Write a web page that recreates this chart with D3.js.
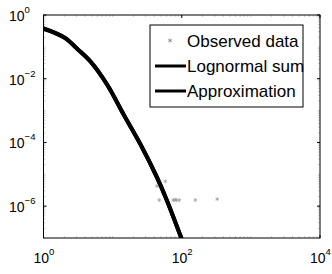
<!DOCTYPE html>
<html>
<head>
<meta charset="utf-8">
<script src="https://cdn.jsdelivr.net/npm/d3@7"></script>
<style>
  body { margin: 0; background: #fff; }
  svg { display: block; font-family: "Liberation Sans", Arial, sans-serif; }
</style>
</head>
<body>
<svg class="chart"></svg>
<script>
// Curve samples (x, CCDF)
const curveX = [1, 1.45, 2.08, 3.1, 4.77, 8.32, 14.4, 25.2, 43.8, 61.1, 95.1, 110];
const lognormalSum = [0.38, 0.28, 0.187, 0.085, 0.0347, 0.0065, 7.5e-4, 8.7e-5, 7.9e-6, 1.47e-6, 1.2e-7, 5.2e-8];
const approximation = [0.37, 0.275, 0.185, 0.086, 0.035, 0.0066, 7.6e-4, 8.9e-5, 8.1e-6, 1.5e-6, 1.25e-7, 5.5e-8];

// Observed data markers
const obsX = [1, 1.3, 1.7, 2.2, 2.8, 3.5, 4.5, 5.5, 7, 9, 11, 14, 18, 22, 27, 32, 37, 41, 43.8, 47.3, 50, 54, 57.8, 75.4, 80, 83.3, 92, 157, 326];
const obsY = [0.42, 0.31, 0.24, 0.175, 0.11, 0.068, 0.041, 0.024, 0.0118, 0.0051, 0.0023, 8.8e-4, 3.4e-4, 1.55e-4, 6.9e-5, 3.3e-5, 1.75e-5, 1.1e-5, 4.3e-6, 1.55e-6, 4.2e-6, 2.9e-6, 6.0e-6, 1.55e-6, 1.6e-6, 1.55e-6, 1.55e-6, 1.55e-6, 1.66e-6];

// Axis ticks
const xTicks = [1, 100, 10000];
const xTickExp = ['0', '2', '4'];
const yTicks = [1, 1e-2, 1e-4, 1e-6];
const yTickExp = ['0', '-2', '-4', '-6'];

const legendLabels = ['Observed data', 'Lognormal sum', 'Approximation'];

const svgWidth = 332;
const svgHeight = 274;
const margin = { top: 15, right: 12, bottom: 36, left: 43.5 };
const chartWidth = svgWidth - margin.left - margin.right;
const chartHeight = svgHeight - margin.top - margin.bottom;

const svg = d3.select('.chart')
  .attr('width', svgWidth)
  .attr('height', svgHeight);

const chart = svg.append('g')
  .attr('transform', 'translate(' + margin.left + ',' + margin.top + ')');

const xScale = d3.scaleLog().domain([1, 1e4]).range([0, chartWidth]);
const yScale = d3.scaleLog().domain([1e-7, 1]).range([chartHeight, 0]);

svg.append('defs').append('clipPath').attr('id', 'plotclip')
  .append('rect').attr('width', chartWidth).attr('height', chartHeight);

// minor ticks (1..9 x 10^n), drawn inward on all four sides
const minorX = [];
for (let e = 0; e < 4; e++) for (let k = 1; k < 10; k++) minorX.push(k * Math.pow(10, e));
const minorY = [];
for (let e = -7; e < 0; e++) for (let k = 1; k < 10; k++) minorY.push(k * Math.pow(10, e));

const ticks = chart.append('g').attr('stroke', '#999').attr('stroke-width', 0.5);
minorX.forEach(v => {
  const x = xScale(v);
  ticks.append('line').attr('x1', x).attr('x2', x).attr('y1', chartHeight).attr('y2', chartHeight - 2);
  ticks.append('line').attr('x1', x).attr('x2', x).attr('y1', 0).attr('y2', 2);
});
minorY.forEach(v => {
  const y = yScale(v);
  ticks.append('line').attr('x1', 0).attr('x2', 2).attr('y1', y).attr('y2', y);
  ticks.append('line').attr('x1', chartWidth).attr('x2', chartWidth - 2).attr('y1', y).attr('y2', y);
});

const major = chart.append('g').attr('stroke', '#000').attr('stroke-width', 1);
xTicks.forEach(v => {
  const x = xScale(v);
  major.append('line').attr('x1', x).attr('x2', x).attr('y1', chartHeight).attr('y2', chartHeight - 3);
  major.append('line').attr('x1', x).attr('x2', x).attr('y1', 0).attr('y2', 3);
});
yTicks.forEach(v => {
  const y = yScale(v);
  major.append('line').attr('x1', 0).attr('x2', 3).attr('y1', y).attr('y2', y);
  major.append('line').attr('x1', chartWidth).attr('x2', chartWidth - 3).attr('y1', y).attr('y2', y);
});

// observed data (grey asterisks)
const plot = chart.append('g').attr('clip-path', 'url(#plotclip)');
const star = d3.symbol().type(d3.symbolAsterisk).size(12);
plot.selectAll('path.obs')
  .data(obsX.map((x, i) => ({ x: x, y: obsY[i] })))
  .enter()
  .append('path')
  .attr('class', 'obs')
  .attr('transform', d => 'translate(' + xScale(d.x) + ',' + yScale(d.y) + ')')
  .attr('d', star)
  .attr('fill', 'none')
  .attr('stroke', '#999')
  .attr('stroke-width', 0.7);

// thick black lines
const line = d3.line()
  .x(d => xScale(d[0]))
  .y(d => yScale(d[1]))
  .curve(d3.curveCatmullRom);

plot.append('path')
  .datum(curveX.map((x, i) => [x, lognormalSum[i]]))
  .attr('fill', 'none')
  .attr('stroke', '#000')
  .attr('stroke-width', 4)
  .attr('d', line);

plot.append('path')
  .datum(curveX.map((x, i) => [x, approximation[i]]))
  .attr('fill', 'none')
  .attr('stroke', '#000')
  .attr('stroke-width', 4)
  .attr('d', line);

// box
chart.append('rect')
  .attr('width', chartWidth)
  .attr('height', chartHeight)
  .attr('fill', 'none')
  .attr('stroke', '#000')
  .attr('stroke-width', 1);

// tick labels 10^n
xTicks.forEach((v, i) => {
  const t = svg.append('text')
    .attr('x', margin.left + xScale(v) - 10)
    .attr('y', 263)
    .attr('font-size', '14px')
    .attr('fill', '#000');
  t.append('tspan').text('10');
  t.append('tspan').attr('dy', -8).attr('font-size', '9.5px').text(xTickExp[i]);
});

yTicks.forEach((v, i) => {
  const t = svg.append('text')
    .attr('x', 9)
    .attr('y', margin.top + yScale(v) + 6)
    .attr('font-size', '14px')
    .attr('fill', '#000');
  t.append('tspan').text('10');
  t.append('tspan').attr('dy', -8).attr('font-size', '9.5px').text(yTickExp[i].replace('-', '\u2212'));
});

// legend
const legend = svg.append('g').attr('transform', 'translate(150,25)');
legend.append('rect')
  .attr('width', 153)
  .attr('height', 82)
  .attr('fill', '#fff')
  .attr('stroke', '#000')
  .attr('stroke-width', 1);

const rowY = [15.5, 41, 66];
legend.append('path')
  .attr('transform', 'translate(20,' + rowY[0] + ')')
  .attr('d', star)
  .attr('fill', 'none')
  .attr('stroke', '#777')
  .attr('stroke-width', 0.7);
[1, 2].forEach(i => {
  legend.append('line')
    .attr('x1', 5).attr('x2', 36)
    .attr('y1', rowY[i]).attr('y2', rowY[i])
    .attr('stroke', '#000')
    .attr('stroke-width', 3);
});
legendLabels.forEach((label, i) => {
  legend.append('text')
    .attr('x', 37)
    .attr('y', rowY[i] + 6)
    .attr('font-size', '17px')
    .attr('fill', '#000')
    .text(label);
});
</script>
</body>
</html>
